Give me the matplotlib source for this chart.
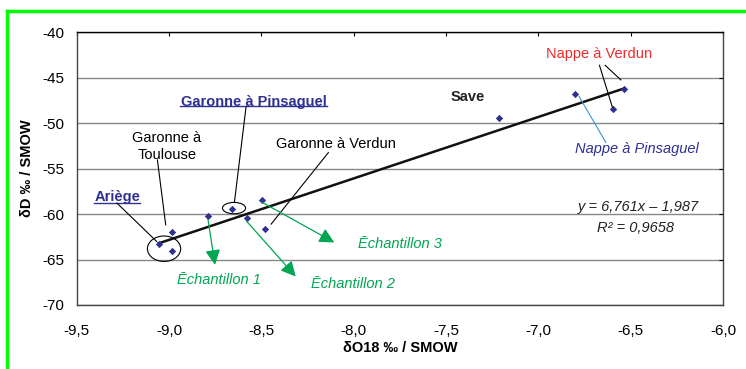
import numpy as np
import matplotlib
matplotlib.use("Agg")
import matplotlib.pyplot as plt
from matplotlib.patches import Ellipse
from matplotlib.lines import Line2D
from matplotlib.ticker import FuncFormatter

plt.rcParams['font.family'] = ['Liberation Sans', 'DejaVu Sans']

# isotope data (delta O18, delta D), per mil / SMOW
d18o = [-9.056, -8.982, -8.985, -8.789, -8.660, -8.579, -8.496, -8.480,
        -7.212, -6.801, -6.598, -6.535]
d2h = [-63.26, -61.95, -64.03, -60.26, -59.45, -60.48, -58.46, -61.60,
       -49.45, -46.78, -48.46, -46.23]

slope = 6.761
intercept = -1.987
r2 = 0.9658

xticks = [-9.5, -9.0, -8.5, -8.0, -7.5, -7.0, -6.5, -6.0]
yticks = [-70, -65, -60, -55, -50, -45, -40]

blue = '#2e3192'
green = '#00a651'
fs = 10.5

fig = plt.figure(figsize=(7.46, 3.69), dpi=100)
ax = fig.add_axes([76.7 / 746, 1 - 305 / 369, (723 - 76.7) / 746, (305 - 32.3) / 369])

ax.set_xlim(-9.5, -6.0)
ax.set_ylim(-70, -40)
ax.set_xticks(xticks)
ax.set_yticks(yticks)
fmt = FuncFormatter(lambda v, p: ('%.1f' % v).replace('.', ','))
ax.xaxis.set_major_formatter(fmt)
ax.yaxis.set_major_formatter(FuncFormatter(lambda v, p: '%d' % v))
ax.tick_params(axis='both', labelsize=11, length=0, pad=9)
ax.tick_params(axis='x', pad=14)
ax.tick_params(top=True, right=True, direction='in', length=3)
ax.tick_params(bottom=False, left=False)
ax.yaxis.grid(True, color='#888888', lw=1)
ax.set_axisbelow(True)
for s in ax.spines.values():
    s.set_color('#444444')
    s.set_linewidth(1)
ax.spines['top'].set_color('black')

# regression line
xl = np.array([min(d18o), max(d18o)])
ax.plot(xl, slope * xl + intercept, color='#111111', lw=1.8, zorder=3)
ax.scatter(d18o, d2h, marker='D', s=14, color=blue, zorder=4, linewidths=0)

ax.set_xlabel('δO18 ‰ / SMOW', fontsize=fs, fontweight='bold', labelpad=2)
ax.set_ylabel('δD ‰ / SMOW', fontsize=fs, fontweight='bold', labelpad=6)

# ellipses
ax.add_patch(Ellipse((-8.648, -59.34), 0.125, 1.25, fill=False, ec='black', lw=0.8, zorder=5))
ax.add_patch(Ellipse((-9.027, -63.81), 0.18, 2.8, fill=False, ec='black', lw=0.8, zorder=5))

# leader lines
def leader(x0, y0, x1, y1, c='black'):
    ax.plot([x0, x1], [y0, y1], color=c, lw=0.8, zorder=5)

leader(-8.583, -48.22, -8.646, -58.72)
leader(-9.063, -54.03, -9.018, -61.18)
leader(-9.282, -58.79, -9.067, -63.01)
leader(-8.137, -53.23, -8.447, -61.10)
leader(-6.669, -43.63, -6.599, -48.24)
leader(-6.638, -43.63, -6.553, -45.24)
leader(-6.779, -47.08, -6.634, -52.13, c='#3399cc')

# labels
ax.text(-8.541, -47.66, 'Garonne à Pinsaguel', color=blue, fontsize=fs, fontweight='bold',
        ha='center', va='center')
ax.plot([-8.94, -8.143], [-48.15, -48.15], color=blue, lw=1)
ax.text(-9.011, -52.55, 'Garonne à\nToulouse', color='black', fontsize=fs,
        ha='center', va='center', linespacing=1.3)
ax.text(-9.28, -58.13, 'Ariège', color=blue, fontsize=fs, fontweight='bold',
        ha='center', va='center')
ax.plot([-9.406, -9.156], [-58.75, -58.75], color=blue, lw=1)
ax.text(-8.095, -52.27, 'Garonne à Verdun', color='black', fontsize=fs,
        ha='center', va='center')
ax.text(-7.383, -47.08, 'Save', color='#222222', fontsize=fs, fontweight='bold',
        ha='center', va='center')
ax.text(-6.671, -42.38, 'Nappe à Verdun', color='#ee2a2a', fontsize=fs,
        ha='center', va='center')
ax.text(-6.466, -52.82, 'Nappe à Pinsaguel', color=blue, fontsize=fs, style='italic',
        ha='center', va='center')
ax.text(-6.459, -59.23, 'y = 6,761x – 1,987', color='#222222', fontsize=fs, style='italic',
        ha='center', va='center')
ax.text(-6.474, -61.54, 'R² = ' + ('%.4f' % r2).replace('.', ','), color='#222222',
        fontsize=fs, style='italic', ha='center', va='center')

# sample arrows
samples = [('Ēchantillon 1', (-8.729, -67.22), (-8.789, -60.6), (-8.751, -65.57)),
           ('Ēchantillon 2', (-8.003, -67.66), (-8.579, -60.8), (-8.314, -66.86)),
           ('Ēchantillon 3', (-7.749, -63.26), (-8.496, -58.7), (-8.105, -63.12))]
for name, tpos, start, tip in samples:
    ax.annotate('', xy=tip, xytext=start,
                arrowprops=dict(arrowstyle='-|>,head_width=0.38,head_length=0.75',
                                color=green, lw=0.9, mutation_scale=12,
                                shrinkA=0, shrinkB=0), zorder=5)
    ax.text(tpos[0], tpos[1], name, color=green, fontsize=fs, style='italic',
            ha='center', va='center')

# green frame
fig.add_artist(Line2D([7 / 746, 1], [1 - 10.5 / 369] * 2, color='#00ff00', lw=2.5,
                      transform=fig.transFigure))
fig.add_artist(Line2D([7 / 746] * 2, [0, 1 - 10.5 / 369], color='#00ff00', lw=2.5,
                      transform=fig.transFigure))

fig.savefig('out.png', dpi=100)
